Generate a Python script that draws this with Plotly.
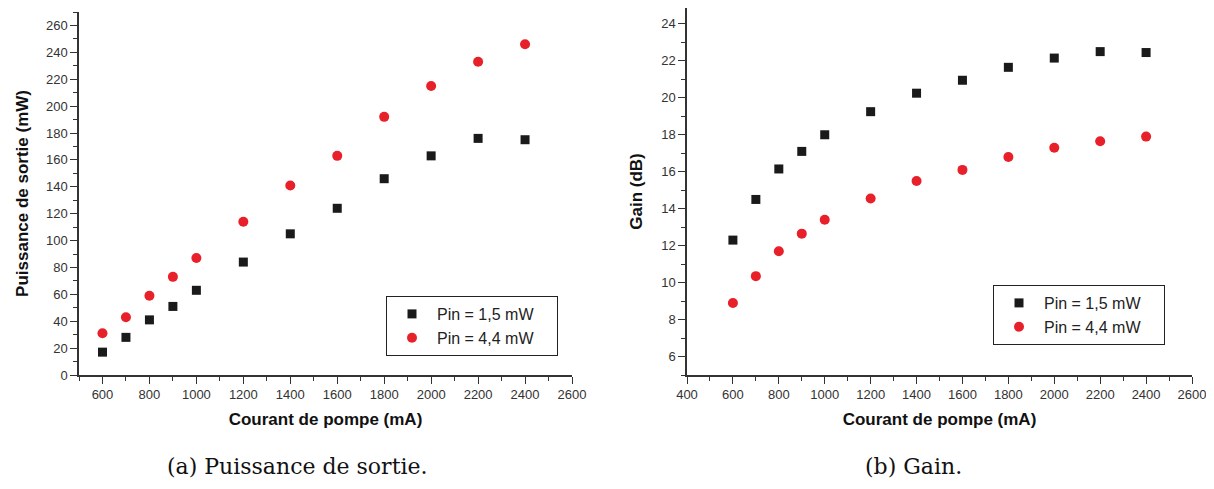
import plotly.graph_objects as go

current = [600, 700, 800, 900, 1000, 1200, 1400, 1600, 1800, 2000, 2200, 2400]
power_p15 = [17, 28, 41, 51, 63, 84, 105, 124, 146, 163, 176, 175]
power_p44 = [31, 43, 59, 73, 87, 114, 141, 163, 192, 215, 233, 246]
gain_p15 = [12.3, 14.5, 16.15, 17.1, 18.0, 19.25, 20.25, 20.95, 21.65, 22.15, 22.5, 22.45]
gain_p44 = [8.9, 10.35, 11.7, 12.65, 13.4, 14.55, 15.5, 16.1, 16.8, 17.3, 17.65, 17.9]
series_names = ["Pin = 1,5 mW", "Pin = 4,4 mW"]
xlabel = "Courant de pompe (mA)"
ylabel_a = "Puissance de sortie (mW)"
ylabel_b = "Gain (dB)"
caption_a = "(a) Puissance de sortie."
caption_b = "(b) Gain."

# page body has an 8px margin; figure occupies the rest of the 1214x489 window
OFF = 8
W, H = 1214 - OFF, 489 - OFF
BLACK = "#1a1a1a"
RED = "#e8202a"
PAD = "\u00a0\u00a0\u00a0\u00a0"

fig = go.Figure()
fig.add_trace(go.Scatter(x=current, y=power_p15, mode="markers", name=series_names[0] + PAD,
                         marker=dict(symbol="square", size=9, color=BLACK), legend="legend",
                         xaxis="x", yaxis="y"))
fig.add_trace(go.Scatter(x=current, y=power_p44, mode="markers", name=series_names[1] + PAD,
                         marker=dict(symbol="circle", size=10, color=RED), legend="legend",
                         xaxis="x", yaxis="y"))
fig.add_trace(go.Scatter(x=current, y=gain_p15, mode="markers", name=series_names[0] + PAD,
                         marker=dict(symbol="square", size=9, color=BLACK), legend="legend2",
                         xaxis="x2", yaxis="y2"))
fig.add_trace(go.Scatter(x=current, y=gain_p44, mode="markers", name=series_names[1] + PAD,
                         marker=dict(symbol="circle", size=10, color=RED), legend="legend2",
                         xaxis="x2", yaxis="y2"))

def px(v):
    return (v - OFF) / W

def py(v):
    return min(1.0, max(0.0, 1 - (v - OFF) / H))

tickfont = dict(family="Liberation Sans, Arial", size=13, color="#333")
titlefont = dict(family="Liberation Sans, Arial", size=17, color="#111", weight="bold")
axcommon = dict(showline=True, linecolor="#333", linewidth=1.5, ticks="outside", ticklen=7,
                tickwidth=1.2, tickcolor="#333", showgrid=False, zeroline=False,
                tickfont=tickfont, mirror=False, automargin=False)

legfont = dict(family="Liberation Sans, Arial", size=16, color="#222")

fig.update_layout(
    width=W, height=H, margin=dict(l=0, r=0, t=0, b=0),
    paper_bgcolor="white", plot_bgcolor="white",
    xaxis=dict(domain=[px(79), px(572)], range=[500, 2600], dtick=200, tick0=600,
               minor=dict(ticks="outside", ticklen=4, dtick=100, tickcolor="#333"),
               title=dict(text=xlabel, font=titlefont, standoff=12), anchor="y", **axcommon),
    yaxis=dict(domain=[py(375), py(12)], range=[0, 270], dtick=20,
               minor=dict(ticks="outside", ticklen=4, dtick=10, tickcolor="#333"),
               title=dict(text=ylabel_a, font=titlefont, standoff=13), anchor="x", **axcommon),
    xaxis2=dict(domain=[px(687), px(1192)], range=[400, 2600], dtick=200,
                minor=dict(ticks="outside", ticklen=4, dtick=100, tickcolor="#333"),
                title=dict(text=xlabel, font=titlefont, standoff=12), anchor="y2", **axcommon),
    yaxis2=dict(domain=[py(375), py(8)], range=[5, 24.86], dtick=2, tick0=6,
                minor=dict(ticks="outside", ticklen=4, dtick=1, tickcolor="#333"),
                title=dict(text=ylabel_b, font=titlefont, standoff=14), anchor="x2", **axcommon),
    legend=dict(x=px(386), y=py(296), xanchor="left", yanchor="top",
                bordercolor="#222", borderwidth=1, bgcolor="white",
                font=legfont, tracegroupgap=0, itemwidth=40),
    legend2=dict(x=px(993), y=py(285), xanchor="left", yanchor="top",
                 bordercolor="#222", borderwidth=1, bgcolor="white",
                 font=legfont, tracegroupgap=0, itemwidth=40),
    showlegend=True,
)

capfont = dict(family="DejaVu Serif, Liberation Serif", size=22, color="#111")
fig.add_annotation(text=caption_a, x=px(297), y=py(466), xref="paper", yref="paper",
                   showarrow=False, font=capfont, xanchor="center", yanchor="middle")
fig.add_annotation(text=caption_b, x=px(913), y=py(466), xref="paper", yref="paper",
                   showarrow=False, font=capfont, xanchor="center", yanchor="middle")

fig.write_html("out.html")
